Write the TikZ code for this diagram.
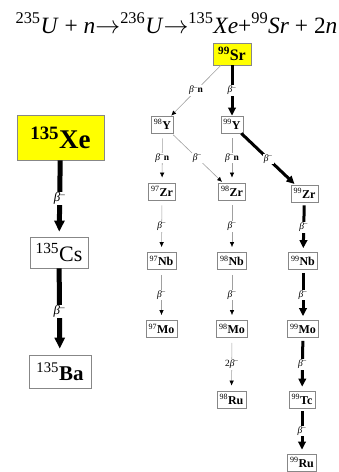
\documentclass[tikz,border=0pt]{standalone}
\usepackage{fontspec}
\setmainfont{Liberation Serif}
\usetikzlibrary{arrows.meta, positioning}
\tikzset{every node/.append style={align=center}}
\definecolor{fisyellow}{RGB}{255,255,0}
\definecolor{boxgray}{RGB}{135,135,135}
\definecolor{linegray}{RGB}{160,160,160}
\newcommand{\isot}[2]{\textsuperscript{#1}#2}
\newcommand{\betadec}{\textit{β}\textsuperscript{--}}

\begin{document}
\begin{tikzpicture}[x=1pt, y=-1pt,
  nucbox/.style={draw=boxgray, fill=white, line width=0.7pt, inner xsep=2.5pt,
                 inner ysep=0pt, minimum height=17pt,
                 font=\fontsize{12}{14}\selectfont},
  thinarr/.style={draw=linegray, line width=0.6pt,
                  -{Latex[black, length=5pt, width=4.5pt]}},
  thickarr/.style={line width=3pt, -{Triangle[length=8pt, width=7.5pt]}},
  fatarr/.style={line width=5pt, -{Triangle[length=11pt, width=10pt]}},
  declbl/.style={fill=white, inner sep=1pt, font=\fontsize{9.5}{11}\selectfont}]

\useasboundingbox (0,0) rectangle (338,472);
\clip (0,0) rectangle (338,472);

% ── fission reaction ──────────────────────────────────────────────────────────
\node[anchor=base, font=\fontsize{23.4}{28}\selectfont] (react) at (176.5,33)
  {\textsuperscript{235}\textit{U} + \textit{n}$\rightarrow$\textsuperscript{236}\textit{U}$\rightarrow$\textsuperscript{135}\textit{Xe}+\textsuperscript{99}\textit{Sr} + 2\textit{n}};

% ── A = 135 chain ─────────────────────────────────────────────────────────────
\node[nucbox, fill=fisyellow, minimum width=87pt, minimum height=45pt,
      font=\fontsize{27}{32}\selectfont\bfseries] (Xe135) at (60.5,137.5)
      {\isot{135}{Xe}};
\node[nucbox, minimum width=58pt, minimum height=31pt,
      font=\fontsize{22}{26}\selectfont] (Cs135) at (59,252.5)
      {\isot{135}{Cs}};
\node[nucbox, minimum width=62pt, minimum height=33pt,
      font=\fontsize{21}{25}\selectfont] (Ba135) at (60,371.5)
      {\isot{135}{\textbf{Ba}}};

\draw[fatarr, shorten >=5pt] (Xe135) --
  node[declbl, font=\fontsize{13}{15}\selectfont] {\betadec} (Cs135);
\draw[fatarr, shorten >=6pt] (Cs135) --
  node[declbl, font=\fontsize{13}{15}\selectfont] {\betadec} (Ba135);

% ── A = 99 chain and branches ─────────────────────────────────────────────────
\node[nucbox, fill=fisyellow, minimum width=38pt, minimum height=22pt,
      font=\fontsize{16}{19}\selectfont\bfseries] (Sr99) at (232,54)
      {\isot{99}{Sr}};

\foreach \nm/\px/\py/\ma/\el in {
    Y98/162.5/124.5/98/Y,   Y99/232/124.5/99/Y,
    Zr97/162/191.5/97/Zr,   Zr98/232/191.5/98/Zr,  Zr99/304.5/193.5/99/Zr,
    Nb97/161.5/261/97/Nb,   Nb98/232/261/98/Nb,    Nb99/303/261/99/Nb,
    Mo97/161.5/329/97/Mo,   Mo98/232/329/98/Mo,    Mo99/303/329/99/Mo,
    Ru98/231.5/399.5/98/Ru, Tc99/302/399.5/99/Tc,  Ru99/302/462.5/99/Ru}
  \node[nucbox] (\nm) at (\px,\py) {\isot{\ma}{\textbf{\el}}};

% thin branches
\draw[thinarr] (Sr99) -- node[declbl] {\betadec\textbf{n}} (Y98);
\draw[thinarr, shorten <=2pt, shorten >=1pt] (Y98) -- node[declbl] {\betadec} (Zr98);
\foreach \a/\b/\lbl in {Y98/Zr97/{\betadec\textbf{n}}, Y99/Zr98/{\betadec\textbf{n}},
                        Zr97/Nb97/{\betadec}, Nb97/Mo97/{\betadec},
                        Zr98/Nb98/{\betadec}, Nb98/Mo98/{\betadec},
                        Mo98/Ru98/{2\betadec}}
  \draw[thinarr, shorten <=5pt, shorten >=5pt] (\a) -- node[declbl] {\lbl} (\b);

% main (thick) path
\draw[thickarr] (Sr99) -- node[declbl] {\betadec} (Y99);
\draw[thickarr, shorten >=1pt] (Y99) -- node[declbl] {\betadec} (Zr99);
\foreach \a/\b in {Zr99/Nb99, Nb99/Mo99, Mo99/Tc99, Tc99/Ru99}
  \draw[thickarr, shorten <=3pt, shorten >=4pt] (\a) -- node[declbl] {\betadec} (\b);

\end{tikzpicture}
\end{document}
